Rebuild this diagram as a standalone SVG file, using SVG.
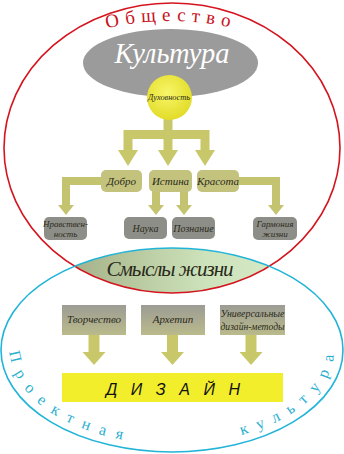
<svg xmlns="http://www.w3.org/2000/svg" width="344" height="454" viewBox="0 0 344 454">
<defs>
<style>
.lbl{font-family:"Liberation Serif","DejaVu Serif",serif;font-style:italic;fill:#2a2a1a;text-anchor:middle}
.c1{fill:none;stroke:#c8c86a;stroke-width:9;stroke-linejoin:miter}
.c2{fill:none;stroke:#c4c470;stroke-width:8;stroke-linejoin:miter}
.c3{fill:none;stroke:#c8c86a;stroke-width:11}
.ny{fill:#c3c37e}
.ng{fill:#8e8e88}
.box{fill:url(#boxg)}
.ring{font-family:"Liberation Serif","DejaVu Serif",serif;font-size:16px;fill:#2cb0d0;letter-spacing:10px}
</style>
<marker id="ah1" markerUnits="userSpaceOnUse" viewBox="0 0 16 20" markerWidth="16" markerHeight="20" refX="0" refY="10" orient="auto"><path d="M0,0 L16,10 L0,20 z" fill="#c8c86a"/></marker>
<marker id="ah2" markerUnits="userSpaceOnUse" viewBox="0 0 10 16" markerWidth="10" markerHeight="16" refX="0" refY="8" orient="auto"><path d="M0,0 L10,8 L0,16 z" fill="#c4c470"/></marker>
<marker id="ah3" markerUnits="userSpaceOnUse" viewBox="0 0 13 23" markerWidth="13" markerHeight="23" refX="0" refY="11.5" orient="auto"><path d="M0,0 L13,11.5 L0,23 z" fill="#c8c86a"/></marker>
<linearGradient id="lens" x1="0" y1="0" x2="1" y2="0">
<stop offset="0" stop-color="#8f9474"/><stop offset="0.35" stop-color="#b4c49a"/><stop offset="0.6" stop-color="#cde3bb"/><stop offset="1" stop-color="#dcefcf"/>
</linearGradient>
<linearGradient id="boxg" x1="0" y1="0" x2="0" y2="1">
<stop offset="0" stop-color="#9c9c94"/><stop offset="1" stop-color="#baba8c"/>
</linearGradient>
<radialGradient id="sun" cx="0.45" cy="0.4" r="0.6">
<stop offset="0" stop-color="#f8f66a"/><stop offset="1" stop-color="#e2dc28"/>
</radialGradient>
<clipPath id="redclip"><ellipse cx="172" cy="148" rx="168" ry="145"/></clipPath>
<path id="topArc" d="M100 30 Q171 12 242 30"/>
<path id="botArc" d="M10 350 A162 94 0 0 0 334 350"/>
</defs>
<rect width="344" height="454" fill="#fff"/>

<g id="smysly">
<ellipse cx="172" cy="350" rx="171" ry="102" fill="url(#lens)" clip-path="url(#redclip)"/>
</g>

<g id="obshchestvo">
<ellipse cx="172" cy="148" rx="168" ry="145" fill="none" stroke="#d4141e" stroke-width="1.6"/>
<text font-family="Liberation Serif, DejaVu Serif, serif" font-size="19" fill="#c8141e" letter-spacing="6" text-anchor="middle"><textPath href="#topArc" startOffset="50%">Общество</textPath></text>
</g>

<g id="proektnaya">
<ellipse cx="172" cy="350" rx="171" ry="102" fill="none" stroke="#22b4d8" stroke-width="1.6"/>
<text class="ring"><textPath href="#botArc" startOffset="2">Проектная</textPath></text>
<text class="ring" text-anchor="end"><textPath href="#botArc" startOffset="414">культура</textPath></text>
</g>

<g id="smysly-label">
<text class="lbl" x="170" y="276" font-size="21" fill="#1a1a1a" textLength="127" lengthAdjust="spacing">Смыслы жизни</text>
</g>

<g id="kultura">
<ellipse cx="170.5" cy="63" rx="87.5" ry="34" fill="#9b9b9b"/>
<text class="lbl" x="172" y="63" font-size="30" style="fill:#fff" textLength="115" lengthAdjust="spacingAndGlyphs">Культура</text>
</g>

<g id="connectors">
<path class="c1" d="M168 118 V150" marker-end="url(#ah1)"/>
<path class="c1" d="M172 134.5 H128 V150" marker-end="url(#ah1)"/>
<path class="c1" d="M164 134.5 H205 V150" marker-end="url(#ah1)"/>
<path class="c2" d="M102 181 H66 V205" marker-end="url(#ah2)"/>
<path class="c2" d="M156 191 V205" marker-end="url(#ah2)"/>
<path class="c2" d="M184 191 V205" marker-end="url(#ah2)"/>
<path class="c2" d="M238 181 H276 V205" marker-end="url(#ah2)"/>
<path class="c3" d="M94 335 V352" marker-end="url(#ah3)"/>
<path class="c3" d="M172.5 335 V352" marker-end="url(#ah3)"/>
<path class="c3" d="M251 335 V352" marker-end="url(#ah3)"/>
</g>

<g id="dukhovnost">
<circle cx="169.5" cy="97.5" r="22.5" fill="url(#sun)"/>
<text class="lbl" x="169" y="100" font-size="9" textLength="42" lengthAdjust="spacingAndGlyphs">Духовность</text>
</g>

<g id="dobro"><rect class="ny" x="101" y="170" width="41" height="22" rx="5"/><text class="lbl" x="121.5" y="185" font-size="11">Добро</text></g>
<g id="istina"><rect class="ny" x="149" y="170" width="43" height="22" rx="5"/><text class="lbl" x="170.5" y="185" font-size="11">Истина</text></g>
<g id="krasota"><rect class="ny" x="197" y="170" width="42" height="22" rx="5"/><text class="lbl" x="218" y="185" font-size="11">Красота</text></g>

<g id="nravstvennost"><rect class="ng" x="44" y="217" width="43" height="23" rx="5"/><text class="lbl" x="65.5" y="226.5" font-size="9">Нравствен-</text><text class="lbl" x="65.5" y="237" font-size="9">ность</text></g>
<g id="nauka"><rect class="ng" x="124" y="217" width="43" height="22" rx="5"/><text class="lbl" x="145.5" y="231.5" font-size="10">Наука</text></g>
<g id="poznanie"><rect class="ng" x="172" y="217" width="43" height="22" rx="5"/><text class="lbl" x="193.5" y="231.5" font-size="10">Познание</text></g>
<g id="garmoniya"><rect class="ng" x="253" y="217" width="44" height="23" rx="5"/><text class="lbl" x="275" y="226.5" font-size="9">Гармония</text><text class="lbl" x="275" y="237" font-size="9">жизни</text></g>

<g id="tvorchestvo"><rect class="box" x="62" y="305" width="64" height="30"/><text class="lbl" x="94" y="323" font-size="11">Творчество</text></g>
<g id="arkhetip"><rect class="box" x="141" y="305" width="64" height="30"/><text class="lbl" x="173" y="323" font-size="11">Архетип</text></g>
<g id="metody"><rect class="box" x="220" y="305" width="65" height="30"/><text class="lbl" x="252.5" y="317" font-size="10.5" textLength="64" lengthAdjust="spacingAndGlyphs">Универсальные</text><text class="lbl" x="252.5" y="330" font-size="10.5" textLength="64" lengthAdjust="spacingAndGlyphs">дизайн-методы</text></g>

<g id="dizain">
<rect x="62" y="373" width="221" height="29" fill="#f2ee2c"/>
<text x="173" y="395" font-family="Liberation Sans, Arial, sans-serif" font-style="italic" font-size="16" fill="#111" text-anchor="middle" textLength="134" lengthAdjust="spacing">Д И З А Й Н</text>
</g>
</svg>
